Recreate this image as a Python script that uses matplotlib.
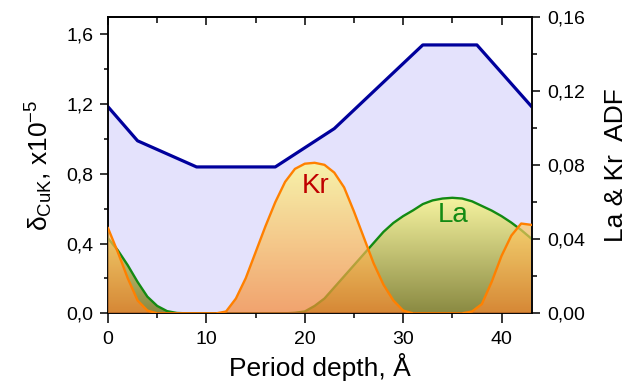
import numpy as np
import matplotlib
matplotlib.use('Agg')
import matplotlib.pyplot as plt
from matplotlib.colors import LinearSegmentedColormap
from matplotlib.ticker import MultipleLocator, FuncFormatter

plt.rcParams['font.family'] = ['Liberation Sans', 'DejaVu Sans']
plt.rcParams['mathtext.fontset'] = 'custom'
plt.rcParams['mathtext.rm'] = 'Liberation Sans'
plt.rcParams['mathtext.it'] = 'Liberation Sans:italic'
plt.rcParams['mathtext.bf'] = 'Liberation Sans:bold'

# delta CuK, x1e-5 (left axis)
depth_d = [0, 3, 9, 17, 23, 32, 37.5, 43]
delta = [1.185, 0.99, 0.84, 0.84, 1.06, 1.54, 1.54, 1.19]

# La & Kr ADF (right axis), one point per angstrom
depth = list(range(0, 44))
kr = [0.046, 0.033, 0.019, 0.007, 0.0015, 0.0, 0.0, 0.0, 0.0, 0.0,
      0.0, 0.0, 0.001, 0.008, 0.019, 0.033, 0.047, 0.060, 0.071, 0.078,
      0.0808, 0.0813, 0.0802, 0.076, 0.068, 0.055, 0.041, 0.027, 0.0155, 0.007,
      0.0015, 0.0, 0.0, 0.0, 0.0, 0.0, 0.0, 0.001, 0.005, 0.017,
      0.031, 0.042, 0.0485, 0.0478]
la = [0.0405, 0.034, 0.026, 0.017, 0.009, 0.004, 0.0012, 0.0002, 0.0, 0.0,
      0.0, 0.0, 0.0, 0.0, 0.0, 0.0, 0.0, 0.0, 0.0, 0.0003,
      0.001, 0.004, 0.008, 0.014, 0.020, 0.026, 0.032, 0.038, 0.044, 0.0488,
      0.0525, 0.0556, 0.059, 0.061, 0.062, 0.0624, 0.062, 0.0605, 0.058, 0.0555,
      0.0525, 0.049, 0.045, 0.0405]


def grad_fill(ax, x, y, c_top, c_bot, alpha=1.0, z=1):
    poly = ax.fill_between(x, 0, y, facecolor='none', edgecolor='none')
    cmap = LinearSegmentedColormap.from_list('g', [c_bot, c_top])
    img = ax.imshow(np.linspace(0, 1, 256).reshape(-1, 1), cmap=cmap,
                    aspect='auto', origin='lower', alpha=alpha, zorder=z,
                    extent=[x[0], x[-1], 0, max(y)])
    img.set_clip_path(poly.get_paths()[0], transform=ax.transData)


fig = plt.figure(figsize=(6.37, 3.84), dpi=100)
ax = fig.add_axes([0.1696, 0.184, 0.6648, 0.7716])

ax.fill_between(depth_d, 0, delta, color='#e4e2fc', lw=0, zorder=1)
ax.plot(depth_d, delta, color='#00009c', lw=2.3, zorder=5)

ax2 = ax.twinx()
grad_fill(ax2, depth, la, '#f6f4a0', '#8a8a42', 1.0, 1)
ax2.plot(depth, la, color='#138a13', lw=1.7, zorder=2, solid_joinstyle='round')
grad_fill(ax2, depth, kr, '#fffa87', '#f88831', 0.7, 3)
ax2.plot(depth, kr, color='#ff8000', lw=1.7, zorder=4, solid_joinstyle='round')
ax2.text(21.1, 0.069, 'Kr', color='#c00000', fontsize=20,
         ha='center', va='center', zorder=6)
ax2.text(35.1, 0.0533, 'La', color='#138a13', fontsize=20,
         ha='center', va='center', zorder=6)

ax.set_xlim(0, 43.05)
ax.set_ylim(0, 1.7)
ax2.set_ylim(0, 0.16)

ax.xaxis.set_major_locator(MultipleLocator(10))
ax.xaxis.set_minor_locator(MultipleLocator(5))
ax.yaxis.set_major_locator(MultipleLocator(0.4))
ax.yaxis.set_minor_locator(MultipleLocator(0.2))
ax2.yaxis.set_major_locator(MultipleLocator(0.04))
ax2.yaxis.set_minor_locator(MultipleLocator(0.02))
ax.yaxis.set_major_formatter(FuncFormatter(lambda v, p: f'{v:.1f}'.replace('.', ',')))
ax2.yaxis.set_major_formatter(FuncFormatter(lambda v, p: f'{v:.2f}'.replace('.', ',')))

ax.tick_params(axis='x', which='major', length=7, width=1.1, pad=6, labelsize=14)
ax.tick_params(axis='x', which='minor', length=3.5, width=1.1)
ax.tick_params(axis='y', which='major', length=5.5, width=1.1, pad=5, labelsize=14)
ax.tick_params(axis='y', which='minor', length=3, width=1.1)
ax2.tick_params(axis='y', which='major', length=6, width=1.1, pad=5, labelsize=14)
ax2.tick_params(axis='y', which='minor', length=3.5, width=1.1)

top = ax.secondary_xaxis('top')
top.xaxis.set_major_locator(MultipleLocator(10))
top.xaxis.set_minor_locator(MultipleLocator(5))
top.tick_params(which='major', direction='in', length=6, width=1.1, labeltop=False)
top.tick_params(which='minor', direction='in', length=4.5, width=1.1)

for a in (ax, ax2):
    for s in a.spines.values():
        s.set_linewidth(1.1)
top.spines['top'].set_linewidth(1.1)

ax.set_xlabel('Period depth, Å', fontsize=19, labelpad=3)
ax.set_ylabel('δ$_{\\mathrm{CuK}}$, x10$^{-5}$', fontsize=19, labelpad=8)
ax2.set_ylabel('La & Kr  ADF', fontsize=19, labelpad=14)

fig.savefig('out.png', dpi=100)
